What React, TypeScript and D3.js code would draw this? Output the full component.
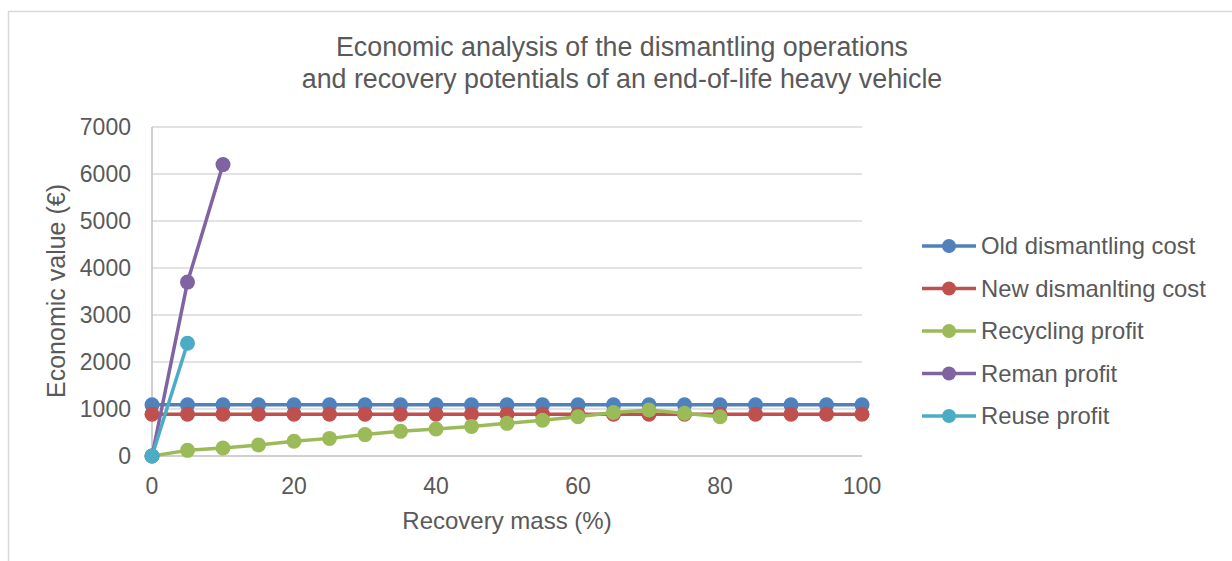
import React from "react";
import * as d3 from "d3";

const massX = d3.range(0, 101, 5);
const oldCost = massX.map(() => 1090);
const newCost = massX.map(() => 890);
const recyclingX = [0, 5, 10, 15, 20, 25, 30, 35, 40, 45, 50, 55, 60, 65, 70, 75, 80];
const recyclingProfit = [0, 120, 170, 235, 315, 375, 455, 525, 575, 630, 695, 760, 835, 925, 980, 910, 835];
const remanX = [0, 5, 10];
const remanProfit = [0, 3700, 6200];
const reuseX = [0, 5];
const reuseProfit = [0, 2400];

const yTicks = [0, 1000, 2000, 3000, 4000, 5000, 6000, 7000];
const xTicks = [0, 20, 40, 60, 80, 100];

const series = [
  { name: "Old dismantling cost", color: "#4F81BD", xs: massX, ys: oldCost },
  { name: "New dismanlting cost", color: "#C0504D", xs: massX, ys: newCost },
  { name: "Recycling profit", color: "#9BBB59", xs: recyclingX, ys: recyclingProfit },
  { name: "Reman profit", color: "#8064A2", xs: remanX, ys: remanProfit },
  { name: "Reuse profit", color: "#4BACC6", xs: reuseX, ys: reuseProfit },
];

const W = 1232;
const H = 561;
const font = "'Liberation Sans', Arial, sans-serif";
const textColor = "#595959";

export default function App() {
  const x = d3.scaleLinear().domain([0, 100]).range([152, 862]);
  const y = d3.scaleLinear().domain([0, 7000]).range([456, 127]);

  return (
    <svg
      width={W}
      height={H}
      style={{ position: "absolute", left: 0, top: 0, background: "#fff" }}
      fontFamily={font}
    >
      <rect x={8.5} y={11.5} width={W} height={H} fill="#fff" stroke="#D9D9D9" strokeWidth={1.5} />

      <text x={622} y={56} textAnchor="middle" fontSize={26.8} fill={textColor}>
        Economic analysis of the dismantling operations
      </text>
      <text x={622} y={88} textAnchor="middle" fontSize={26.8} fill={textColor}>
        and recovery potentials of an end-of-life heavy vehicle
      </text>

      {yTicks.map((t) => (
        <g key={t}>
          <line x1={152} x2={862} y1={y(t)} y2={y(t)} stroke={t === 0 ? "#BFBFBF" : "#D9D9D9"} strokeWidth={1.5} />
          <text x={131} y={y(t) + 8} textAnchor="end" fontSize={23} fill={textColor}>
            {t}
          </text>
        </g>
      ))}
      <line x1={152} x2={152} y1={127} y2={456} stroke="#BFBFBF" strokeWidth={1.5} />

      {xTicks.map((t) => (
        <text key={t} x={x(t)} y={494} textAnchor="middle" fontSize={23} fill={textColor}>
          {t}
        </text>
      ))}

      <text x={507} y={529} textAnchor="middle" fontSize={24} fill={textColor}>
        Recovery mass (%)
      </text>
      <text
        transform={`translate(65, 291) rotate(-90)`}
        textAnchor="middle"
        fontSize={25}
        fill={textColor}
      >
        Economic value (€)
      </text>

      {series.map((s) => {
        const pts: [number, number][] = s.xs.map((v, i) => [x(v), y(s.ys[i])]);
        const line = d3.line()(pts) || "";
        return (
          <g key={s.name}>
            <path d={line} fill="none" stroke={s.color} strokeWidth={3.5} strokeLinejoin="round" />
            {pts.map((p, i) => (
              <circle key={i} cx={p[0]} cy={p[1]} r={7.5} fill={s.color} />
            ))}
          </g>
        );
      })}

      {series.map((s, i) => {
        const ly = 246 + i * 42.5;
        return (
          <g key={s.name}>
            <line x1={922} x2={976} y1={ly} y2={ly} stroke={s.color} strokeWidth={3.5} />
            <circle cx={949} cy={ly} r={7} fill={s.color} />
            <text x={981} y={ly + 8} fontSize={23.8} fill={textColor}>
              {s.name}
            </text>
          </g>
        );
      })}
    </svg>
  );
}
